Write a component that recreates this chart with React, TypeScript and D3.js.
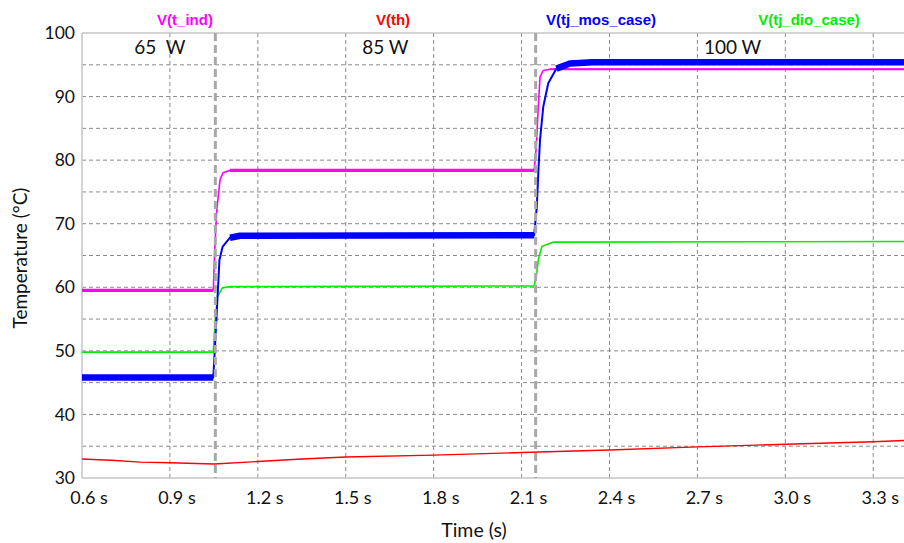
import React from 'react'
import * as d3 from 'd3'

// series as (time, °C) pairs
const tIndTime = [0.6, 1.048, 1.053, 1.06, 1.071, 1.081, 1.105, 2.143, 2.15, 2.157, 2.163, 2.174, 2.197, 3.41]
const tIndTemp = [59.5, 59.5, 66, 72.2, 76.9, 78, 78.4, 78.4, 82, 88.4, 93.1, 94.1, 94.3, 94.3]

const thTime = [0.6, 0.7, 0.8, 0.9, 1.05, 1.2, 1.35, 1.5, 1.8, 2.1, 2.4, 2.7, 3.0, 3.3, 3.41]
const thTemp = [33.0, 32.8, 32.5, 32.4, 32.2, 32.6, 33.0, 33.3, 33.6, 34.0, 34.4, 34.9, 35.3, 35.7, 35.9]

const mosTime = [0.6, 1.048, 1.053, 1.062, 1.069, 1.08, 1.105, 1.139, 2.143, 2.152, 2.157, 2.163, 2.174, 2.191, 2.219, 2.265, 2.343, 3.41]
const mosTemp = [45.8, 45.8, 50, 58, 64.3, 66.4, 67.8, 68.1, 68.2, 72.7, 77.9, 83.2, 88.4, 92.1, 94.4, 95.2, 95.4, 95.4]

const dioTime = [0.6, 1.048, 1.055, 1.062, 1.079, 1.105, 2.143, 2.152, 2.157, 2.169, 2.207, 3.41]
const dioTemp = [49.8, 49.8, 55, 58.5, 59.9, 60.1, 60.2, 62.3, 64.3, 66.4, 67.1, 67.2]

const legendNames = ['V(t_ind)', 'V(th)', 'V(tj_mos_case)', 'V(tj_dio_case)']
const legendColors = ['#ff00ff', '#ff0000', '#0000ff', '#00ee00']

const xTicks = [0.6, 0.9, 1.2, 1.5, 1.8, 2.1, 2.4, 2.7, 3.0, 3.3]
const yTicks = [30, 40, 50, 60, 70, 80, 90, 100]
const yGrid = [35, 40, 45, 50, 55, 60, 65, 70, 75, 80, 85, 90, 95]
const stepTimes = [1.055, 2.148]
const powerLabels = ['65  W', '85 W', '100 W']
const powerAt = [0.866, 1.635, 2.82]

const W = 904
const H = 543
const margin = { top: 33, right: 0, bottom: 65, left: 82 }

const zip = (a: number[], b: number[]) => a.map((t, i) => [t, b[i]] as [number, number])

const App = () => {
  const x = d3.scaleLinear().domain([0.6, 3.405]).range([margin.left, W - margin.right])
  const y = d3.scaleLinear().domain([30, 100]).range([H - margin.bottom, margin.top])

  const line = d3.line<[number, number]>()
    .x(d => x(d[0]))
    .y(d => y(d[1]))

  // the ripple makes the settled parts look wider than the transients
  const series = [
    { pts: zip(thTime, thTemp), color: legendColors[1], w: 1.4, bands: [] as number[][] },
    { pts: zip(dioTime, dioTemp), color: legendColors[3], w: 1.6, bands: [] as number[][] },
    { pts: zip(tIndTime, tIndTemp), color: legendColors[0], w: 1.6, bands: [[0.6, 1.049, 3.2], [1.09, 2.144, 3.2], [2.19, 3.41, 2.2]] },
    { pts: zip(mosTime, mosTemp), color: legendColors[2], w: 2, bands: [[0.6, 1.049, 6.5], [1.085, 2.144, 6.5], [2.2, 3.41, 6.5]] },
  ]

  const font = 'Lato, "Open Sans", sans-serif'
  const x0 = margin.left
  const x1 = W - margin.right
  const y0 = H - margin.bottom
  const y1 = margin.top

  return (
    <svg width={W} height={H} style={{ position: 'absolute', left: 0, top: 0, background: '#fff' }}>
      <defs>
        <clipPath id="plot">
          <rect x={x0} y={y1} width={x1 - x0} height={y0 - y1} />
        </clipPath>
      </defs>

      {/* grid */}
      {yGrid.map(v => (
        <line key={'hy' + v} x1={x0} x2={x1} y1={y(v)} y2={y(v)} stroke="#8a8a8a" strokeWidth={1} strokeDasharray="4,3" />
      ))}
      {xTicks.slice(1).map(t => (
        <line key={'vx' + t} x1={x(t)} x2={x(t)} y1={y1} y2={y0} stroke="#8a8a8a" strokeWidth={1} strokeDasharray="4,3" />
      ))}

      {/* frame */}
      <line x1={x0} x2={x1} y1={y1} y2={y1} stroke="#c4c4c4" strokeWidth={1.5} />
      <line x1={x0} x2={x1} y1={y0} y2={y0} stroke="#c4c4c4" strokeWidth={1.5} />
      <line x1={x0} x2={x0} y1={y1} y2={y0} stroke="#c4c4c4" strokeWidth={1.5} />

      <g clipPath="url(#plot)">
        {series.map((s, i) => (
          <g key={i}>
            <path d={line(s.pts) || ''} fill="none" stroke={s.color} strokeWidth={s.w} strokeLinejoin="round" />
            {s.bands.map((b, j) => (
              <path key={j} d={line(s.pts.filter(p => p[0] >= b[0] && p[0] <= b[1])) || ''} fill="none" stroke={s.color} strokeWidth={b[2]} strokeLinejoin="round" />
            ))}
          </g>
        ))}
      </g>

      {/* power step markers */}
      {stepTimes.map(t => (
        <line key={'st' + t} x1={x(t)} x2={x(t)} y1={y1} y2={y0} stroke="#a8a8a8" strokeWidth={3} strokeDasharray="8,4" />
      ))}

      {/* y ticks */}
      {yTicks.map(v => (
        <text key={'yt' + v} x={x0 - 7} y={y(v)} dy="0.35em" textAnchor="end" fontFamily={font} fontSize={17.5} fill="#111">{v}</text>
      ))}
      {/* x ticks */}
      {xTicks.map(t => (
        <text key={'xt' + t} x={x(t) + 7} y={504} textAnchor="middle" fontFamily={font} fontSize={18} fill="#111">{t.toFixed(1) + ' s'}</text>
      ))}

      <text x={474} y={537} textAnchor="middle" fontFamily={font} fontSize={19.5} fill="#111">Time (s)</text>
      <text transform={`translate(27,258) rotate(-90)`} textAnchor="middle" fontFamily={font} fontSize={19} fill="#111">Temperature (°C)</text>

      {/* legend */}
      {legendNames.map((n, i) => (
        <text key={n} x={185 + i * 208} y={25} textAnchor="middle" fontFamily='"Liberation Sans", Arial, sans-serif' fontWeight="bold" fontSize={15} fill={legendColors[i]}>{n}</text>
      ))}

      {/* power labels */}
      {powerLabels.map((p, i) => (
        <text key={p} x={x(powerAt[i])} y={54} textAnchor="middle" fontFamily={font} fontSize={19} fill="#111" style={{ whiteSpace: 'pre' }}>{p}</text>
      ))}
    </svg>
  )
}

export default App
